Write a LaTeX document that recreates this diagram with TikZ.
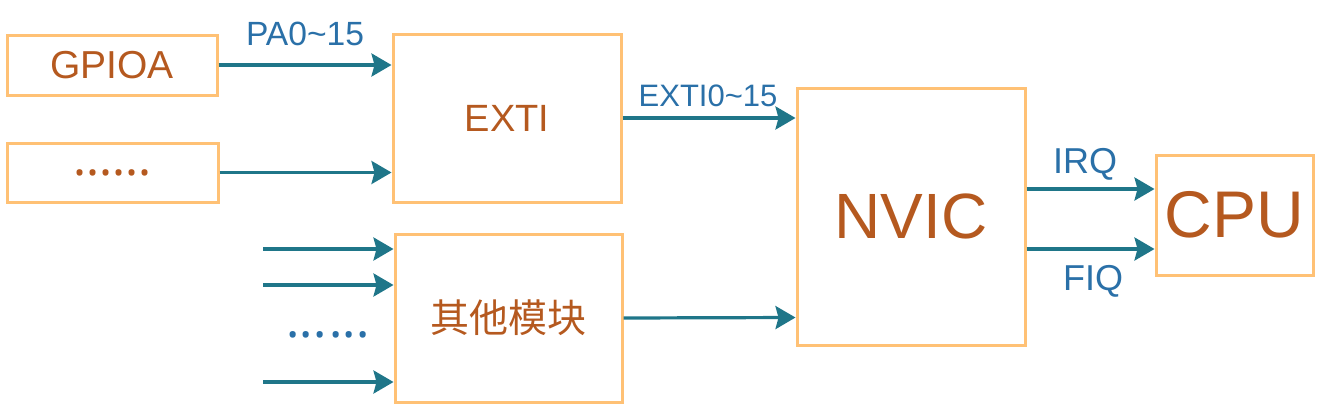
\documentclass[tikz,border=0pt]{standalone}
\usepackage{fontspec}
\setmainfont{Liberation Sans}
\newfontfamily\cjk{Noto Sans CJK SC}
\newfontfamily\dotfont{Noto Sans}
\usetikzlibrary{arrows.meta}
\definecolor{boxc}{HTML}{FFC175}
\definecolor{txtc}{HTML}{B5591F}
\definecolor{arrc}{HTML}{1F7689}
\definecolor{labc}{HTML}{2A70A8}
\begin{document}
\begin{tikzpicture}[x=0.5pt,y=-0.5pt,
  blk/.style={draw=boxc, line width=1.5pt, rectangle, inner sep=0pt, text=txtc},
  arr/.style={draw=arrc, line width=1.6pt, -{Stealth[length=10pt,width=11.5pt,inset=1.5pt]}},
  lab/.style={text=labc, anchor=base, inner sep=0pt}]
\useasboundingbox (0,0) rectangle (1320,412);
% boxes
\node[blk, minimum width=105pt, minimum height=30pt, font=\fontsize{19.5}{22}\selectfont] (gpioa) at (112,65) {GPIOA};
\node[blk, minimum width=105.5pt, minimum height=29.5pt, font=\dotfont\fontsize{24.3}{22}\selectfont] (dotsbox) at (112.5,172.5) {......};
\node[blk, minimum width=114pt, minimum height=84pt, font=\fontsize{19}{22}\selectfont] (exti) at (507,118) {EXTI};
\node[blk, minimum width=113.5pt, minimum height=84pt, font=\cjk\fontsize{19.5}{22}\selectfont] (other) at (508.5,318) {其他模块};
\node[blk, minimum width=114pt, minimum height=128.5pt, font=\fontsize{32}{36}\selectfont] (nvic) at (911,216.5) {NVIC};
\node[blk, minimum width=78.5pt, minimum height=60pt, font=\fontsize{33}{36}\selectfont] (cpu) at (1234.5,215) {CPU};
% arrows into EXTI
\draw[arr] (gpioa.east) -- (gpioa.east -| exti.west);
\draw[arr] (dotsbox.east) -- (dotsbox.east -| exti.west);
% EXTI -> NVIC
\draw[arr] (exti.east) -- (exti.east -| nvic.west);
% other -> NVIC
\draw[arr] (other.east) -- ([yshift=14.5pt]nvic.south west);
% NVIC -> CPU
\draw[arr] ([yshift=13.75pt]nvic.east) -- ([yshift=13.75pt]nvic.east -| cpu.west);
\draw[arr] ([yshift=-16.25pt]nvic.east) -- ([yshift=-16.25pt]nvic.east -| cpu.west);
% inputs to other
\coordinate (in1) at (263,249);
\coordinate (in2) at (263,285);
\coordinate (in3) at (263,382);
\draw[arr] (in1) -- (in1 -| other.west);
\draw[arr] (in2) -- (in2 -| other.west);
\draw[arr] (in3) -- (in3 -| other.west);
\node[text=labc, font=\dotfont\fontsize{24.8}{22}\selectfont, inner sep=0pt, anchor=base] (indots) at (328,337) {...\kern1.7pt...};
% labels
\node[lab, font=\fontsize{16.8}{20}\selectfont] (lpa) at (305,45) {PA0\textasciitilde15};
\node[lab, font=\fontsize{15.5}{18}\selectfont] (lexti) at (708,106) {EXTI0\textasciitilde15};
\node[lab, font=\fontsize{18}{20}\selectfont] (lirq) at (1085,173) {IRQ};
\node[lab, font=\fontsize{18}{20}\selectfont] (lfiq) at (1093,290) {FIQ};
\end{tikzpicture}
\end{document}
